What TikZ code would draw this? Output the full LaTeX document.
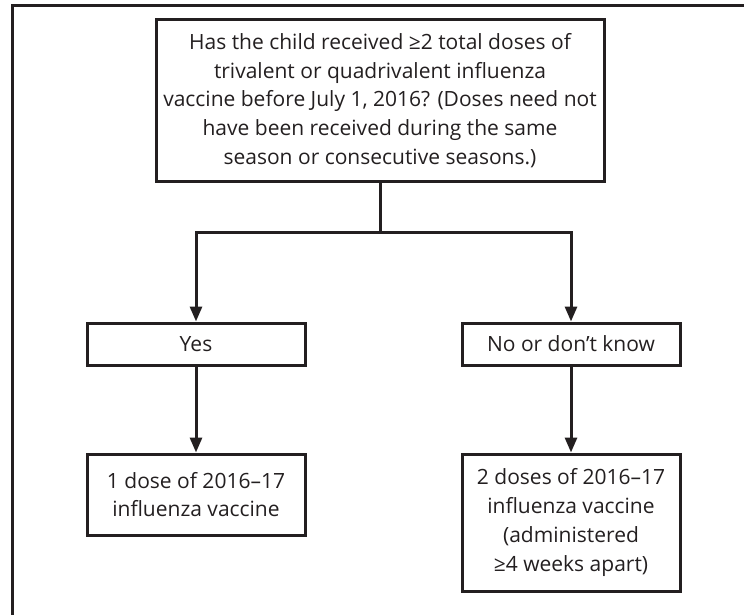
\documentclass[tikz,border=0pt]{standalone}
\usepackage{fontspec}
\setmainfont{Open Sans}
\usetikzlibrary{arrows.meta}
\definecolor{ink}{HTML}{231F20}
\begin{document}
\begin{tikzpicture}[x=1pt,y=-1pt,
  box/.style={draw=ink, text=ink, line width=3pt, align=center, inner sep=0pt,
    font=\fontsize{21}{28.7}\selectfont},
  conn/.style={draw=ink, line width=3pt, -{Triangle[length=15pt,width=12pt]}},
  frameline/.style={draw=ink, line width=3pt}]
\useasboundingbox (0,0) rectangle (744,615);
\coordinate (fb) at (12,615);
\coordinate (ftl) at (12,6);
\coordinate (fr) at (744,6);
\draw[frameline] (fb) -- (ftl) -- (fr);

\node[box, minimum width=448pt, minimum height=161pt] (q) at (380,100.5)
  {Has the child received ≥2 total doses of\\
   trivalent or quadrivalent influenza\\
   vaccine before July 1, 2016? (Doses need not\\
   have been received during the same\\
   season or consecutive seasons.)};
\node[box, minimum width=218pt, minimum height=42pt] (yes) at (196,344) {Yes};
\node[box, minimum width=218pt, minimum height=42pt] (no) at (571,344) {No or don’t know};
\node[box, minimum width=218pt, minimum height=81pt] (one) at (196,494.5)
  {1 dose of 2016–17\\influenza vaccine};
\node[box, minimum width=218pt, minimum height=137pt] (two) at (571,522.5)
  {2 doses of 2016–17\\influenza vaccine\\(administered\\≥4 weeks apart)};

\coordinate (split) at (380,232);
\draw[draw=ink, line width=3pt] (q.south) -- (split);
\draw[conn] (split) -| (yes.north);
\draw[conn] (split) -| (no.north);
\draw[conn] (yes.south) -- (one.north);
\draw[conn] (no.south) -- (two.north);
\end{tikzpicture}
\end{document}
